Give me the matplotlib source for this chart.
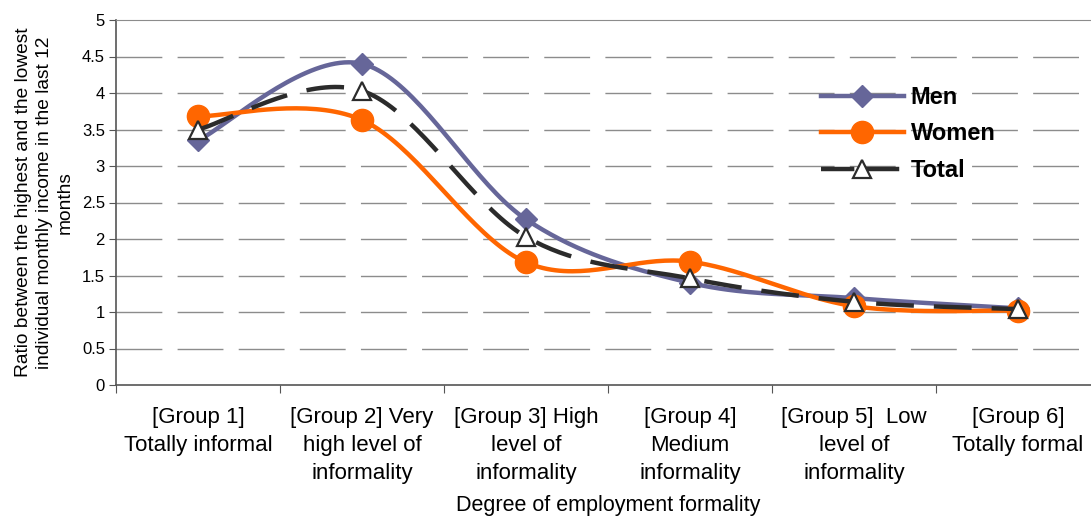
# -*- coding: utf-8 -*-
"""Income ratio by degree of employment formality, smoothed lines."""
import numpy
import matplotlib
matplotlib.use('Agg')
# pylint: disable=wrong-import-position
import matplotlib.pyplot as plt
from matplotlib.lines import Line2D

GROUPS = [
    '[Group 1]\nTotally informal',
    '[Group 2] Very\nhigh level of\ninformality',
    '[Group 3] High\nlevel of\ninformality',
    '[Group 4]\nMedium\ninformality',
    '[Group 5]  Low\nlevel of\ninformality',
    '[Group 6]\nTotally formal',
]
MEN = [3.35, 4.40, 2.27, 1.40, 1.19, 1.05]
WOMEN = [3.68, 3.63, 1.68, 1.69, 1.08, 1.02]
TOTAL = [3.50, 4.03, 2.03, 1.46, 1.14, 1.04]

FONT = 'Liberation Sans'


def smooth(xs, ys, steps=40):
    """Catmull-Rom curve through the points (like a spreadsheet smoothed line)."""
    xs = numpy.asarray(xs, dtype=float)
    ys = numpy.asarray(ys, dtype=float)
    px = numpy.concatenate([[xs[0]], xs, [xs[-1]]])
    py = numpy.concatenate([[ys[0]], ys, [ys[-1]]])
    out_x, out_y = [], []
    t = numpy.linspace(0, 1, steps)
    for i in range(1, len(px) - 2):
        for src, dst in ((px, out_x), (py, out_y)):
            p0, p1, p2, p3 = src[i - 1], src[i], src[i + 1], src[i + 2]
            c1 = p1 + (p2 - p0) / 6.0
            c2 = p2 - (p3 - p1) / 6.0
            seg = ((1 - t) ** 3 * p1 + 3 * (1 - t) ** 2 * t * c1
                   + 3 * (1 - t) * t ** 2 * c2 + t ** 3 * p2)
            dst.extend(seg if i == 1 else seg[1:])
    return numpy.array(out_x), numpy.array(out_y)


def main():
    """main."""
    plt.rcParams['font.family'] = FONT
    fig = plt.figure(figsize=(10.91, 5.18), dpi=100)
    ax = fig.add_axes([116 / 1091, 1 - 385 / 518, 984 / 1091, 365 / 518])

    x = numpy.arange(1, len(GROUPS) + 1)

    for yv in numpy.arange(0.5, 5.0, 0.5):
        ax.axhline(yv, color='#8c8c8c', lw=1.0, dashes=(33, 11), zorder=1)

    men_c = '#666699'
    women_c = '#ff6600'
    total_c = '#2b2b2b'

    sx, sy = smooth(x, MEN)
    ax.plot(sx, sy, color=men_c, lw=3.2, solid_capstyle='round', zorder=3)
    ax.plot(x, MEN, ls='none', marker='D', ms=11, color=men_c, zorder=4)

    sx, sy = smooth(x, WOMEN)
    ax.plot(sx, sy, color=women_c, lw=3.2, solid_capstyle='round', zorder=3)
    ax.plot(x, WOMEN, ls='none', marker='o', ms=16, color=women_c, zorder=4)

    sx, sy = smooth(x, TOTAL)
    ax.plot(sx, sy, color=total_c, lw=3.2, dashes=(8.5, 4.5), zorder=5)
    ax.plot(x, TOTAL, ls='none', marker='^', ms=13, mfc='white',
            mec=total_c, mew=1.6, zorder=6)

    ax.set_xlim(0.5, 6.5)
    ax.set_ylim(0, 5)
    ax.set_yticks(numpy.arange(0, 5.01, 0.5))
    ax.set_yticklabels(['0', '0.5', '1', '1.5', '2', '2.5', '3', '3.5',
                        '4', '4.5', '5'], fontsize=12)
    ax.set_xticks(numpy.arange(0.5, 6.6, 1.0))
    ax.set_xticklabels([])
    ax.set_xticks(x, minor=True)
    ax.set_xticklabels(GROUPS, minor=True, fontsize=16, linespacing=1.42)
    ax.tick_params(axis='x', which='minor', length=0, pad=16)
    ax.tick_params(axis='x', which='major', length=6, color='#555555')
    ax.tick_params(axis='y', length=5, color='#555555', pad=3)

    for side in ('left', 'bottom'):
        ax.spines[side].set_color('#555555')
        ax.spines[side].set_linewidth(1.2)
    ax.spines['top'].set_color('#8c8c8c')
    ax.spines['right'].set_visible(False)

    ax.set_xlabel('Degree of employment formality', fontsize=15.5, labelpad=8)
    ax.set_ylabel('Ratio between the highest and the lowest\n'
                  'individual monthly income in the last 12\nmonths',
                  fontsize=13.8, linespacing=1.3, labelpad=6)

    handles = [
        Line2D([], [], color=men_c, lw=3.2, marker='D', ms=11),
        Line2D([], [], color=women_c, lw=3.2, marker='o', ms=16),
        Line2D([], [], color=total_c, lw=3.2, dashes=(7.5, 2.6), marker='^',
               ms=13, mfc='white', mec=total_c, mew=1.6),
    ]
    ax.legend(handles, ['Men', 'Women', 'Total'], loc='upper left',
              bbox_to_anchor=(0.695, 0.878), frameon=False,
              prop={'family': FONT, 'weight': 'bold', 'size': 17},
              handlelength=3.5, handletextpad=0.3, labelspacing=0.58)

    fig.savefig('out.png', dpi=100)


if __name__ == '__main__':
    main()
